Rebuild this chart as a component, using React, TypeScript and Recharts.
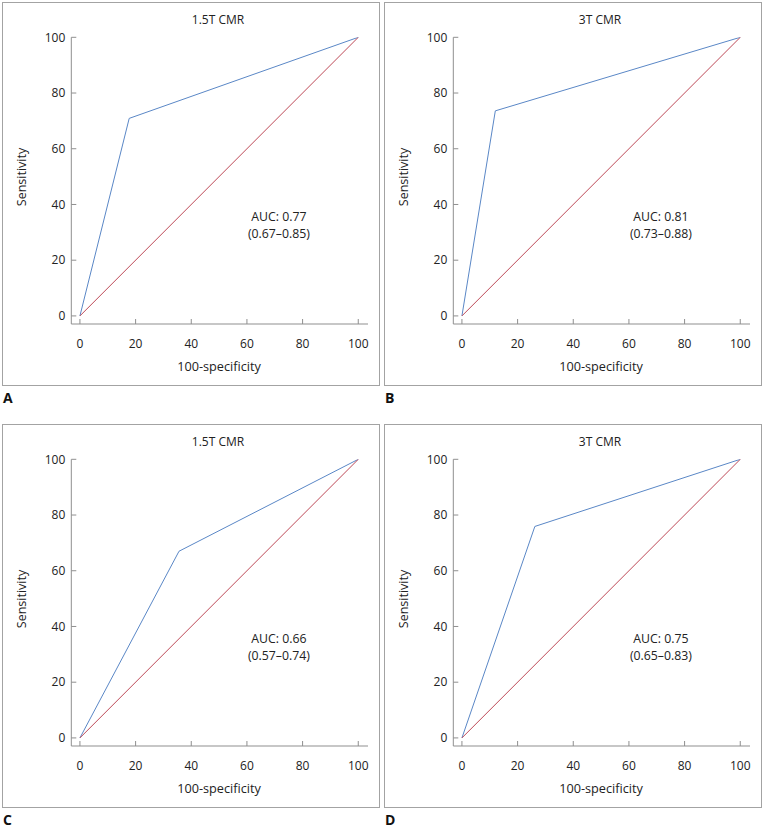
import { LineChart, Line, XAxis, YAxis, ReferenceDot } from 'recharts';

// Axis ticks
const xTicks = [0, 20, 40, 60, 80, 100];
const yTicks = [0, 20, 40, 60, 80, 100];

// Panels
const panelLetters = ['A', 'B', 'C', 'D'];
const panelTitles = ['1.5T CMR', '3T CMR', '1.5T CMR', '3T CMR'];

// ROC curves: 100-specificity vs sensitivity
const rocFprA = [0, 17.7, 100];
const rocSensA = [0, 70.9, 100];
const rocFprB = [0, 12, 100];
const rocSensB = [0, 73.6, 100];
const rocFprC = [0, 35.6, 100];
const rocSensC = [0, 67, 100];
const rocFprD = [0, 26.2, 100];
const rocSensD = [0, 75.9, 100];

// Reference (chance) line
const diagFpr = [0, 100];
const diagSens = [0, 100];

const aucValues = ['0.77', '0.81', '0.66', '0.75'];
const aucRanges = ['0.67–0.85', '0.73–0.88', '0.57–0.74', '0.65–0.83'];

const rocFpr = [rocFprA, rocFprB, rocFprC, rocFprD];
const rocSens = [rocSensA, rocSensB, rocSensC, rocSensD];

const FONT = '"Open Sans", "Noto Sans", sans-serif';
const TEXT = '#222';
const GREY = '#8f8f8f';
const BLUE = '#5a87c6';
const RED = '#bd4856';

const BOX_W = 378;
const BOX_H = 384;
const X_GAP = 15;
const Y_GAP = 6;

const toPoints = (xs: number[], ys: number[]) => xs.map((x, i) => ({ x, y: ys[i] }));

const XTick = (props: any) => {
  const { x, y, payload } = props;
  return (
    <g>
      <line x1={x} x2={x} y1={y - X_GAP} y2={y - X_GAP - 5} stroke={GREY} />
      <text x={x} y={y} dy="0.71em" textAnchor="middle" fill={TEXT} fontSize={12} fontFamily={FONT}>
        {payload.value}
      </text>
    </g>
  );
};

const YTick = (props: any) => {
  const { x, y, payload } = props;
  return (
    <g>
      <line x1={x + Y_GAP} x2={x + Y_GAP + 5} y1={y} y2={y} stroke={GREY} />
      <text x={x} y={y} dy="0.355em" textAnchor="end" fill={TEXT} fontSize={12} fontFamily={FONT}>
        {payload.value}
      </text>
    </g>
  );
};

const centered = (x: number, y: number, size: number, extra?: string) => ({
  position: 'absolute' as const,
  left: x,
  top: y,
  transform: 'translate(-50%, -50%)' + (extra || ''),
  whiteSpace: 'nowrap' as const,
  fontFamily: FONT,
  fontSize: size,
  color: TEXT,
  lineHeight: 1,
});

const Panel = ({ idx, left, top }: { idx: number; left: number; top: number }) => {
  const roc = toPoints(rocFpr[idx], rocSens[idx]);
  const diag = toPoints(diagFpr, diagSens);
  return (
    <>
      <div
        style={{
          position: 'absolute',
          left,
          top,
          width: BOX_W,
          height: BOX_H,
          boxSizing: 'border-box',
          border: '1px solid #a3a3a3',
        }}
      >
        <LineChart
          width={BOX_W}
          height={BOX_H}
          margin={{ top: 35.3, right: 12, bottom: 32, left: 29.3 }}
          style={{ position: 'absolute', left: -1, top: -1 }}
        >
          <XAxis
            dataKey="x"
            type="number"
            domain={[-3.1, 103.5]}
            ticks={xTicks}
            height={30}
            tickSize={0}
            tickMargin={X_GAP}
            tick={XTick}
            axisLine={{ stroke: GREY }}
            allowDataOverflow
          />
          <YAxis
            dataKey="y"
            type="number"
            domain={[-2.9, 100]}
            ticks={yTicks}
            width={40}
            tickSize={0}
            tickMargin={Y_GAP}
            tick={YTick}
            axisLine={{ stroke: GREY }}
            allowDataOverflow
          />
          <Line data={roc} dataKey="y" stroke={BLUE} strokeWidth={1} dot={false} isAnimationActive={false} />
          <Line data={diag} dataKey="y" stroke={RED} strokeWidth={1} dot={false} isAnimationActive={false} />
          <ReferenceDot
            x={71.5}
            y={32.6}
            r={0}
            ifOverflow="visible"
            shape={(p: any) => (
              <text textAnchor="middle" fill={TEXT} fontSize={12.3} fontFamily={FONT}>
                <tspan x={p.cx} y={p.cy - 8.3} dy="0.355em">{`AUC: ${aucValues[idx]}`}</tspan>
                <tspan x={p.cx} y={p.cy + 8.3} dy="0.355em">{`(${aucRanges[idx]})`}</tspan>
              </text>
            )}
          />
        </LineChart>
        <div style={centered(215, 17, 12)}>{panelTitles[idx]}</div>
        <div style={centered(19, 174, 12.5, ' rotate(-90deg)')}>Sensitivity</div>
        <div style={centered(216, 363, 12.7)}>100-specificity</div>
      </div>
      <div
        style={{
          position: 'absolute',
          left: left + 1,
          top: top + 389,
          fontFamily: FONT,
          fontWeight: 700,
          fontSize: 14,
          color: '#111',
          lineHeight: 1,
        }}
      >
        {panelLetters[idx]}
      </div>
    </>
  );
};

export default function App() {
  return (
    <div style={{ position: 'absolute', left: 0, top: 0, width: 764, height: 828, background: '#fff' }}>
      <Panel idx={0} left={2} top={2} />
      <Panel idx={1} left={384} top={2} />
      <Panel idx={2} left={2} top={424} />
      <Panel idx={3} left={384} top={424} />
    </div>
  );
}
